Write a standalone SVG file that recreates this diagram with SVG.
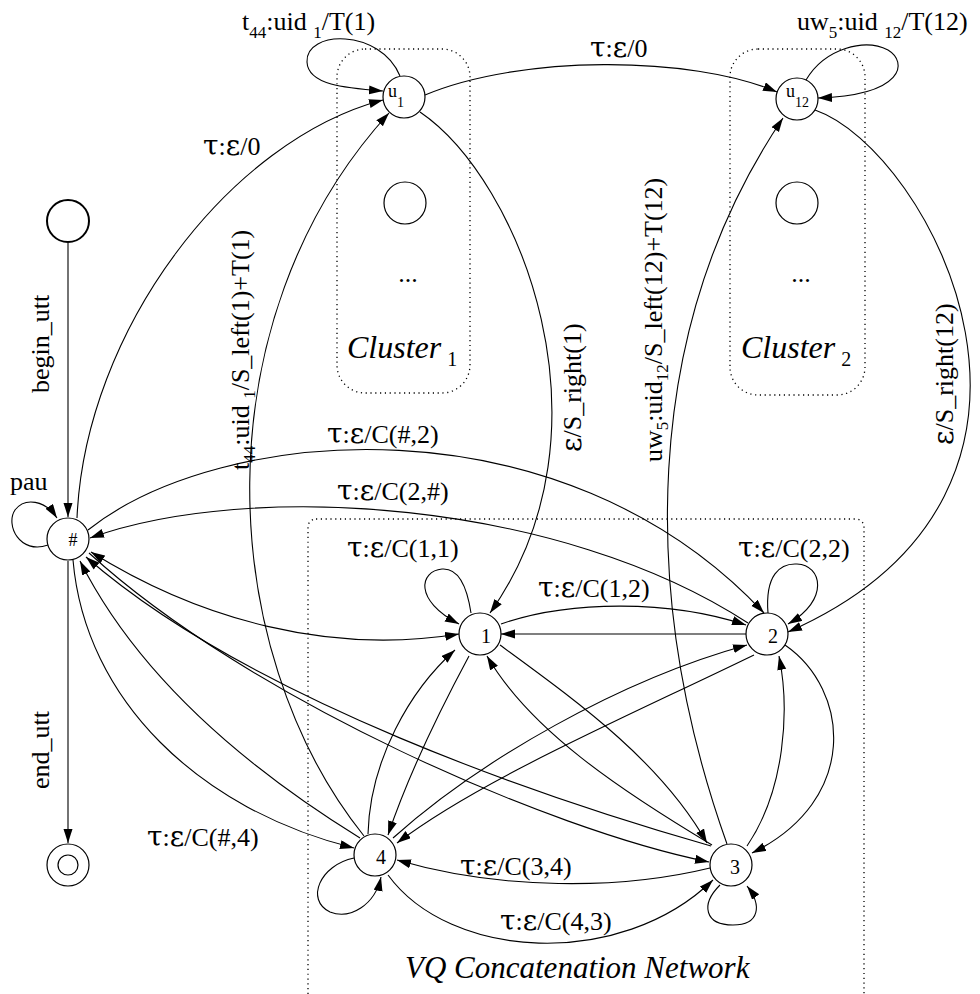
<svg xmlns="http://www.w3.org/2000/svg" width="980" height="994" viewBox="0 0 980 994">
<style>
.n{fill:#fff;stroke:#000;stroke-width:1.2}
.e{fill:none;stroke:#000;stroke-width:1.1;marker-end:url(#ah)}
.box{fill:none;stroke:#000;stroke-width:1.3;stroke-dasharray:1.2 3.6}
.t{font-family:"Liberation Serif","Times New Roman",serif;font-size:26px;fill:#000}
.g{font-family:"DejaVu Serif",serif;font-size:28px}
.nl{font-family:"Liberation Serif","Times New Roman",serif;font-size:20px;fill:#000}
.it{font-family:"Liberation Serif","Times New Roman",serif;font-style:italic;font-size:31px;fill:#000}
</style>
<defs>
<marker id="ah" markerUnits="userSpaceOnUse" markerWidth="15" markerHeight="10" refX="14" refY="4.5" orient="auto-start-reverse" viewBox="0 0 15 10">
<path d="M0,0 L14,4.5 L0,9 Z" fill="#000"/>
</marker>
</defs>
<g id="clusters">
<rect class="box" x="337" y="49" width="133" height="344" rx="28"/>
<rect class="box" x="730" y="49" width="135" height="346" rx="28"/>
<rect class="box" x="308" y="519" width="556" height="490" rx="8"/>
</g>
<g id="connectors">
<path class="e" d="M68 243 L68 517"/>
<path class="e" d="M68 561 L68 843"/>
<path class="e" d="M48 545 C20 555,5 525,15 510 C25 497,45 500,57 518"/>
<path class="e" d="M77 518 C85 330,230 140,383 100"/>
<path class="e" d="M364 836 C215 650,200 320,389 113"/>
<path class="e" d="M425 95 C520 55,690 55,777 92"/>
<path class="e" d="M420 112 C520 180,620 430,490 613"/>
<path class="e" d="M815 110 C930 150,1110 490,788 632"/>
<path class="e" d="M400 76 C380 28,305 30,307 62 C308 85,345 88,383 91"/>
<path class="e" d="M806 80 C825 48,865 38,888 50 C908 62,905 95,818 98"/>
<path class="e" d="M727 844 C640 600,640 330,783 118"/>
<path class="e" d="M88 530 C220 425,560 395,764 613"/>
<path class="e" d="M748 623 C560 500,250 480,90 538"/>
<path class="e" d="M91 552 C200 620,330 655,459 634" marker-start="url(#ah)"/>
<path class="e" d="M73 560 C85 700,200 810,354 848"/>
<path class="e" d="M360 838 C250 770,140 680,80 561"/>
<path class="e" d="M89 553 C250 700,550 830,709 862"/>
<path class="e" d="M711 846 C550 800,250 700,86 557"/>
<path class="e" d="M501 624 C570 600,670 600,746 625"/>
<path class="e" d="M746 634 L501 634"/>
<path class="e" d="M471 613 C466 580,455 568,442 569 C420 571,413 600,459 624"/>
<path class="e" d="M768 613 C765 575,780 563,797 564 C822 565,830 600,788 624"/>
<path class="e" d="M368 834 C370 760,410 690,455 650"/>
<path class="e" d="M469 656 C440 710,410 770,388 835"/>
<path class="e" d="M393 838 C480 760,620 680,747 645"/>
<path class="e" d="M754 655 C620 720,480 780,397 843"/>
<path class="e" d="M710 868 C620 890,500 890,397 860"/>
<path class="e" d="M388 875 C450 960,620 970,713 880"/>
<path class="e" d="M500 645 C575 700,660 760,707 843"/>
<path class="e" d="M712 845 C620 790,530 730,487 656"/>
<path class="e" d="M785 645 C850 690,860 800,752 853"/>
<path class="e" d="M747 846 C785 790,790 710,779 656"/>
<path class="e" d="M720 885 C700 905,705 925,733 925 C760 925,762 905,747 886"/>
<path class="e" d="M354 858 C320 865,305 900,330 912 C350 920,375 905,381 877"/>
</g>
<g id="start"><circle class="n" cx="68" cy="221" r="21" style="stroke-width:2"/></g>
<g id="hash"><circle class="n" cx="68" cy="539" r="21"/><text class="nl" x="73" y="546" text-anchor="middle" style="font-size:18px">#</text></g>
<g id="end"><circle class="n" cx="68" cy="865" r="21"/><circle class="n" cx="68" cy="865" r="10"/></g>
<g id="u1"><circle class="n" cx="404" cy="97" r="21"/><text class="nl" x="388" y="97" style="font-size:18px">u<tspan dy="10" font-size="14">1</tspan></text></g>
<g id="u12"><circle class="n" cx="797" cy="99" r="21"/><text class="nl" x="786" y="97" style="font-size:18px">u<tspan dy="10" font-size="14">12</tspan></text></g>
<g id="c1node"><circle class="n" cx="405" cy="203" r="21"/></g>
<g id="c2node"><circle class="n" cx="797" cy="203" r="21"/></g>
<g id="n1"><circle class="n" cx="480" cy="634" r="21"/><text class="nl" x="486" y="643" text-anchor="middle">1</text></g>
<g id="n2"><circle class="n" cx="767" cy="634" r="21"/><text class="nl" x="773" y="643" text-anchor="middle">2</text></g>
<g id="n3"><circle class="n" cx="731" cy="865" r="21"/><text class="nl" x="735" y="874" text-anchor="middle">3</text></g>
<g id="n4"><circle class="n" cx="375" cy="855" r="21"/><text class="nl" x="381" y="864" text-anchor="middle">4</text></g>
<g id="labels">
<text class="t" x="408" y="282" text-anchor="middle">...</text>
<text class="t" x="801" y="282" text-anchor="middle">...</text>
<text class="it" x="347" y="358" style="font-size:32px">Cluster<tspan dx="6" dy="8" font-style="normal" font-size="20">1</tspan></text>
<text class="it" x="741" y="358" style="font-size:32px">Cluster<tspan dx="6" dy="8" font-style="normal" font-size="20">2</tspan></text>
<text class="it" x="405" y="978">VQ Concatenation Network</text>
<text class="t" x="242" y="30">t<tspan dy="8" font-size="17">44</tspan><tspan dy="-8">:uid </tspan><tspan dy="8" font-size="17">1</tspan><tspan dy="-8">/T(1)</tspan></text>
<text class="t" x="797" y="30">uw<tspan dy="8" font-size="17">5</tspan><tspan dy="-8">:uid </tspan><tspan dy="8" font-size="17">12</tspan><tspan dy="-8">/T(12)</tspan></text>
<text class="t" x="590" y="57"><tspan class="g">τ</tspan>:<tspan class="g">ε</tspan>/0</text>
<text class="t" x="203" y="155"><tspan class="g">τ</tspan>:<tspan class="g">ε</tspan>/0</text>
<text class="t" x="10" y="490">pau</text>
<text class="t" transform="translate(49,344) rotate(-90)" text-anchor="middle">begin_utt</text>
<text class="t" transform="translate(49,750) rotate(-90)" text-anchor="middle">end_utt</text>
<text class="t" transform="translate(249,470) rotate(-90)">t<tspan dy="6" font-size="17">44</tspan><tspan dy="-6">:uid </tspan><tspan dy="6" font-size="17">1</tspan><tspan dy="-6">/S_left(1)+T(1)</tspan></text>
<text class="t" transform="translate(662,462) rotate(-90)">uw<tspan dy="6" font-size="17">5</tspan><tspan dy="-6">:uid</tspan><tspan dy="6" font-size="17">12</tspan><tspan dy="-6">/S_left(12)+T(12)</tspan></text>
<text class="t" transform="translate(581,452) rotate(-90)"><tspan class="g">ε</tspan>/S_right(1)</text>
<text class="t" transform="translate(953,445) rotate(-90)"><tspan class="g">ε</tspan>/S_right(12)</text>
<text class="t" x="327" y="443"><tspan class="g">τ</tspan>:<tspan class="g">ε</tspan>/C(#,2)</text>
<text class="t" x="337" y="500"><tspan class="g">τ</tspan>:<tspan class="g">ε</tspan>/C(2,#)</text>
<text class="t" x="347" y="557"><tspan class="g">τ</tspan>:<tspan class="g">ε</tspan>/C(1,1)</text>
<text class="t" x="538" y="597"><tspan class="g">τ</tspan>:<tspan class="g">ε</tspan>/C(1,2)</text>
<text class="t" x="738" y="557"><tspan class="g">τ</tspan>:<tspan class="g">ε</tspan>/C(2,2)</text>
<text class="t" x="147" y="846"><tspan class="g">τ</tspan>:<tspan class="g">ε</tspan>/C(#,4)</text>
<text class="t" x="460" y="875"><tspan class="g">τ</tspan>:<tspan class="g">ε</tspan>/C(3,4)</text>
<text class="t" x="500" y="930"><tspan class="g">τ</tspan>:<tspan class="g">ε</tspan>/C(4,3)</text>
</g>
</svg>
